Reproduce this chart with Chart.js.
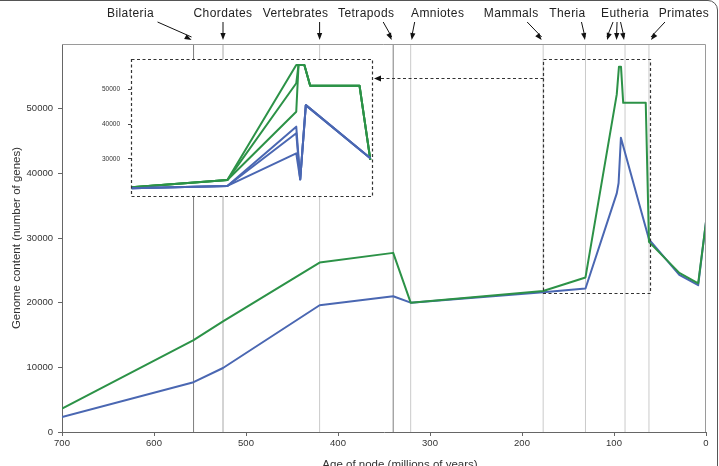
<!DOCTYPE html>
<html>
<head>
<meta charset="utf-8">
<script src="https://cdn.jsdelivr.net/npm/chart.js@4.4.0/dist/chart.umd.min.js"></script>
<style>
  html, body { margin: 0; padding: 0; background: #fff; overflow: hidden; }
  #wrap { position: relative; width: 719px; height: 466px; }
  #main { position: absolute; left: 0; top: 0; }
  #inset { position: absolute; left: 95px; top: 50px; }
  #frame { position: absolute; left: -12px; top: 0; width: 730px; height: 520px; border: 1px solid #555;
           border-radius: 10px; box-sizing: border-box; pointer-events: none; }
</style>
</head>
<body>
<div id="wrap">
  <canvas id="main" width="719" height="466"></canvas>
  <canvas id="inset" width="285" height="155"></canvas>
  <div id="frame"></div>
</div>
<script>
// nodes of the tree (age in millions of years)
const nodeNames = ["Bilateria", "Chordates", "Vertebrates", "Tetrapods", "Amniotes", "Mammals", "Theria", "Eutheria", "Primates"];
const nodeAges = [557, 525, 420, 340, 321, 177, 131, 88, 62];

// main chart series
const greenAges = [700, 557, 525, 420, 340, 321, 177, 131, 97, 94.6, 92.4, 90, 65.5, 62, 29, 8.5, 0];
const greenGenes = [3600, 14200, 17100, 26200, 27700, 20000, 21800, 23900, 52200, 56500, 56500, 50900, 50900, 29400, 24600, 23000, 32500];
const blueAges = [700, 557, 525, 420, 340, 321, 177, 131, 97, 95, 92.5, 62, 29, 8.5, 0];
const blueGenes = [2300, 7700, 9900, 19600, 21000, 20000, 21600, 22200, 36900, 38500, 45500, 29800, 24300, 22700, 32500];

// inset (zoom on 177 - 62 Myr), three alternative branches
const insetGreenAges = [177, 131, 97.9, 96.8, 94, 91.2, 67.5, 62.3];
const insetGreenA = [21800, 23900, 43600, 57100, 57100, 51100, 51100, 29700];
const insetGreenB = [21800, 23900, 51800, 57100, 57100, 51100, 51100, 29700];
const insetGreenC = [21800, 23900, 57100, 57100, 57100, 51100, 51100, 29700];
const insetBlueAges = [177, 131, 97.9, 96, 93.3, 62.3];
const insetBlueA = [21500, 22200, 39300, 24100, 45500, 30200];
const insetBlueB = [21500, 22200, 37400, 24100, 45500, 30200];
const insetBlueC = [21500, 22200, 31600, 24100, 45500, 30200];

const xTicks = [700, 600, 500, 400, 300, 200, 100, 0];
const yTicks = [0, 10000, 20000, 30000, 40000, 50000];
const insetYTicks = [30000, 40000, 50000];

// zoomed region marked on the main chart
const zoomAges = [177, 61];
const zoomGenes = [21500, 57700];

const GREEN = "#2c9247";
const BLUE = "#4a67b2";
const FONT = '"Liberation Sans", Arial, sans-serif';

function pts(xs, ys) {
    return xs.map((x, i) => ({ x: x, y: ys[i] }));
}

function drawHead(ctx, x1, y1, x2, y2, len, half) {
    const a = Math.atan2(y2 - y1, x2 - x1);
    ctx.beginPath();
    ctx.moveTo(x2, y2);
    ctx.lineTo(x2 - len * Math.cos(a) + half * Math.sin(a), y2 - len * Math.sin(a) - half * Math.cos(a));
    ctx.lineTo(x2 - len * Math.cos(a) - half * Math.sin(a), y2 - len * Math.sin(a) + half * Math.cos(a));
    ctx.closePath();
    ctx.fill();
}

// label offset and arrow (start dx, end dx) relative to each node line
const labelLayout = {
    Bilateria:   { dx: -63, arrows: [[-36, -2]] },
    Chordates:   { dx: 0,   arrows: [[0, 0]] },
    Vertebrates: { dx: -24, arrows: [[0, 0]] },
    Tetrapods:   { dx: -27, arrows: [[-10, -1.5]] },
    Amniotes:    { dx: 27,  arrows: [[4, 1]] },
    Mammals:     { dx: -32, arrows: [[-16, -1.5]] },
    Theria:      { dx: -18, arrows: [[-4, -0.5]] },
    Eutheria:    { dx: 0,   arrows: [[-12, -18], [-8, -8.5], [-4.5, -1]] },
    Primates:    { dx: 35,  arrows: [[16, 2]] }
};

const mainDecor = {
    id: "mainDecor",
    afterDraw(chart) {
        const ctx = chart.ctx;
        const xs = chart.scales.x, ys = chart.scales.y;
        const ca = chart.chartArea;
        ctx.save();
        // top and right frame of the plot
        ctx.strokeStyle = "#9a9a9a";
        ctx.lineWidth = 1;
        ctx.beginPath();
        ctx.moveTo(ca.left, ca.top + 0.5);
        ctx.lineTo(ca.right - 0.5, ca.top + 0.5);
        ctx.lineTo(ca.right - 0.5, ca.bottom);
        ctx.stroke();

        // dashed box around the zoomed region
        const bx1 = Math.round(xs.getPixelForValue(zoomAges[0])) + 0.5;
        const bx2 = Math.round(xs.getPixelForValue(zoomAges[1])) + 0.5;
        const by1 = Math.round(ys.getPixelForValue(zoomGenes[1])) + 0.5;
        const by2 = Math.round(ys.getPixelForValue(zoomGenes[0])) + 0.5;
        ctx.strokeStyle = "#333";
        ctx.lineWidth = 1.2;
        ctx.setLineDash([3, 2.5]);
        ctx.strokeRect(bx1, by1, bx2 - bx1, by2 - by1);

        // dashed arrow towards the inset
        const ay = Math.round(ys.getPixelForValue(54800)) + 0.5;
        const tip = 374;
        ctx.beginPath();
        ctx.moveTo(bx1, ay);
        ctx.lineTo(tip + 6, ay);
        ctx.stroke();
        ctx.setLineDash([]);
        ctx.fillStyle = "#111";
        drawHead(ctx, bx1, ay, tip, ay, 7, 3);

        // node labels with arrows
        ctx.font = "12px " + FONT;
        ctx.letterSpacing = "0.4px";
        ctx.textAlign = "center";
        ctx.textBaseline = "middle";
        ctx.strokeStyle = "#111";
        ctx.lineWidth = 1;
        nodeNames.forEach((name, i) => {
            const nx = xs.getPixelForValue(nodeAges[i]);
            const lay = labelLayout[name];
            ctx.fillStyle = "#222";
            ctx.fillText(name, nx + lay.dx, 14);
            lay.arrows.forEach(a => {
                const sx = nx + a[0], ex = nx + a[1];
                const sy = 22, ey = 40;
                ctx.beginPath();
                ctx.moveTo(sx, sy);
                ctx.lineTo(ex, ey - 3);
                ctx.stroke();
                ctx.fillStyle = "#111";
                drawHead(ctx, sx, sy, ex, ey, 7, 2.6);
            });
        });
        ctx.letterSpacing = "0px";

        // axis titles
        ctx.fillStyle = "#333";
        ctx.font = "11.5px " + FONT;
        ctx.textBaseline = "alphabetic";
        ctx.fillText("Age of node (millions of years)", 400, 468);
        ctx.translate(20, (ca.top + ca.bottom) / 2);
        ctx.rotate(-Math.PI / 2);
        ctx.fillText("Genome content (number of genes)", 0, 0);
        ctx.restore();
    }
};

const nodeSets = nodeNames.map((name, i) => ({
    label: name,
    data: [{ x: nodeAges[i], y: 0 }, { x: nodeAges[i], y: 60000 }],
    borderColor: (name === "Bilateria" || name === "Tetrapods") ? "#7d7d7d" : (name === "Chordates" ? "#a8a8a8" : "#cacaca"),
    borderWidth: 1,
    pointRadius: 0,
    order: 5
}));

new Chart(document.getElementById("main").getContext("2d"), {
    type: "line",
    data: {
        datasets: nodeSets.concat([
            { label: "green", data: pts(greenAges, greenGenes), borderColor: GREEN, borderWidth: 2, pointRadius: 0, order: 1, borderJoinStyle: "round" },
            { label: "blue", data: pts(blueAges, blueGenes), borderColor: BLUE, borderWidth: 2, pointRadius: 0, order: 2, borderJoinStyle: "round" }
        ])
    },
    options: {
        responsive: false,
        devicePixelRatio: 1,
        animation: false,
        layout: { padding: { left: 0, right: 13, top: 44, bottom: 0 } },
        plugins: { legend: { display: false }, tooltip: { enabled: false } },
        scales: {
            x: {
                type: "linear", reverse: true, min: 0, max: 700,
                afterBuildTicks: s => { s.ticks = xTicks.map(v => ({ value: v })); },
                afterFit: s => { s.height = 34; },
                grid: { drawOnChartArea: false, tickLength: 4, color: "#666" },
                border: { color: "#666" },
                ticks: { color: "#333", font: { family: FONT, size: 9.5 }, padding: 2, maxRotation: 0, callback: v => String(v) }
            },
            y: {
                min: 0, max: 60000,
                afterBuildTicks: s => { s.ticks = yTicks.map(v => ({ value: v })); },
                afterFit: s => { s.width = 62; },
                grid: { drawOnChartArea: false, tickLength: 4, color: "#666" },
                border: { color: "#666" },
                ticks: { color: "#333", font: { family: FONT, size: 9.5 }, padding: 5, callback: v => String(v) }
            }
        }
    },
    plugins: [mainDecor]
});

// inset chart
const insetDecor = {
    id: "insetDecor",
    beforeDraw(chart) {
        const ca = chart.chartArea;
        chart.ctx.save();
        chart.ctx.fillStyle = "#fff";
        chart.ctx.fillRect(ca.left, ca.top, ca.right - ca.left, ca.bottom - ca.top);
        chart.ctx.restore();
    },
    afterDraw(chart) {
        const ca = chart.chartArea, ctx = chart.ctx;
        ctx.save();
        ctx.strokeStyle = "#333";
        ctx.lineWidth = 1.2;
        ctx.setLineDash([3, 2.5]);
        ctx.strokeRect(Math.round(ca.left) + 0.5, Math.round(ca.top) + 0.5,
                       Math.round(ca.right - ca.left), Math.round(ca.bottom - ca.top));
        ctx.restore();
    }
};

function insetLine(ages, vals, color) {
    return { data: pts(ages, vals), borderColor: color, borderWidth: 2, pointRadius: 0, borderJoinStyle: "round" };
}

new Chart(document.getElementById("inset").getContext("2d"), {
    type: "line",
    data: {
        datasets: [
            insetLine(insetBlueAges, insetBlueA, BLUE),
            insetLine(insetBlueAges, insetBlueB, BLUE),
            insetLine(insetBlueAges, insetBlueC, BLUE),
            insetLine(insetGreenAges, insetGreenA, GREEN),
            insetLine(insetGreenAges, insetGreenB, GREEN),
            insetLine(insetGreenAges, insetGreenC, GREEN)
        ]
    },
    options: {
        responsive: false,
        devicePixelRatio: 1,
        animation: false,
        layout: { padding: { left: 0, right: 8, top: 9, bottom: 9 } },
        plugins: { legend: { display: false }, tooltip: { enabled: false } },
        scales: {
            x: { type: "linear", reverse: true, min: 61.5, max: 177.3, display: false },
            y: {
                min: 19300, max: 58800,
                afterBuildTicks: s => { s.ticks = insetYTicks.map(v => ({ value: v })); },
                afterFit: s => { s.width = 36; s.paddingTop = 0; s.paddingBottom = 0; },
                grid: { drawOnChartArea: false, tickLength: 3, color: "#444" },
                border: { display: false },
                ticks: { color: "#333", font: { family: FONT, size: 6.5 }, padding: 8, callback: v => String(v) }
            }
        }
    },
    plugins: [insetDecor]
});
</script>
</body>
</html>
